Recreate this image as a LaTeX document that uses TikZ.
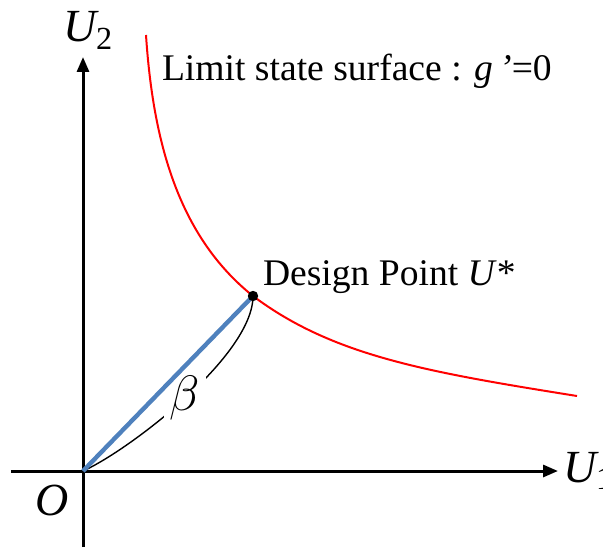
\documentclass[tikz,border=0pt]{standalone}
\usepackage{fontspec}
\setmainfont{Liberation Serif}
\usetikzlibrary{arrows.meta,positioning}
\definecolor{betablue}{RGB}{79,129,189}
\definecolor{limitred}{RGB}{255,0,0}

\begin{document}
\begin{tikzpicture}[x=0.5pt, y=0.5pt, every node/.style={inner sep=0pt, outer sep=0pt}]
  \useasboundingbox (-83,-76) rectangle (520,471);
  \tikzset{axis/.style={line width=1.5pt, -{Triangle[length=7.5pt,width=6pt]}},
           lbl/.style={font=\fontsize{18.8}{22}\selectfont},
           axlbl/.style={font=\fontsize{23}{27}\selectfont\itshape}}
  \coordinate (O) at (0,0);
  \coordinate (xs) at (-72,0);
  \coordinate (xe) at (475,0);
  \coordinate (ys) at (0,-76);
  \coordinate (ye) at (0,414);
  \coordinate (dp) at (170,175);
  \coordinate (gtop) at (63,436);
  \coordinate (gend) at (494,75);
  % axes
  \draw[axis] (xs) -- (xe);
  \draw[axis] (ys) -- (ye);
  % limit state surface
  \draw[limitred, line width=1pt] (gtop) .. controls (70,330) and (95,235) .. (dp)
    .. controls (250,115) and (344,99) .. (gend);
  % reliability index
  \draw[line width=0.7pt] (O) .. controls (45,20) and (170,115) .. (dp)
    node[pos=0.5, fill=white, inner sep=3pt, font=\fontsize{29}{34}\selectfont] (beta) {$\beta$};
  \draw[betablue, line width=2.2pt] (O) -- (dp);
  \fill (dp) circle (2.6pt);
  % labels
  \node[lbl, anchor=base west] (limit) at (79,390) {Limit state surface : \textit{g\,’}=0};
  \node[lbl, anchor=base west] (dplabel) at (180,186) {Design Point \textit{U}*};
  \node[axlbl, anchor=base west] (u2) at (-20,429) {U\textsubscript{\upshape 2}};
  \node[axlbl, anchor=base west] (u1) at (480,-11) {U\textsubscript{\upshape 1}};
  \node[axlbl] (o) at (-31,-29) {O};
\end{tikzpicture}
\end{document}
